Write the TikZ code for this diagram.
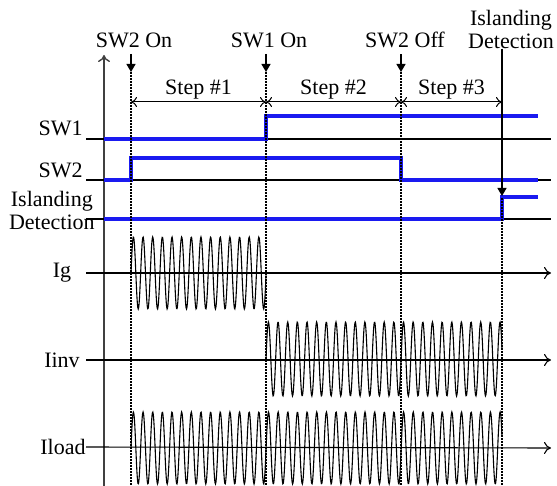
\documentclass[tikz,border=0pt]{standalone}
\usepackage{fontspec}
\setmainfont{Liberation Serif}
\usepackage{tikz}
\usetikzlibrary{positioning,arrows.meta,calc}
\definecolor{SIGblue}{HTML}{1A1AF0}
\definecolor{AXgray}{HTML}{404040}
\tikzset{
  lbl/.style={font=\fontsize{11}{11.5}\selectfont, inner sep=0pt, align=center},
  zeroline/.style={draw=black, line width=0.55pt},
  timeaxis/.style={zeroline, -{To[length=3.5pt,width=6pt]}},
  sigline/.style={draw=SIGblue, line width=1.6pt},
  evtline/.style={draw=black, line width=1.1pt, dash pattern=on 1pt off 0.5pt},
  evtarr/.style={-{Triangle[length=4pt,width=4.5pt]}, line width=0.6pt},
  steparr/.style={{To[length=3pt,width=5pt]}-{To[length=3pt,width=5pt]}, line width=0.5pt},
  wave/.style={line width=0.55pt, smooth}
}

\begin{document}
\begin{tikzpicture}[x=0.5pt,y=-0.5pt]
\useasboundingbox (0,0) rectangle (557,486);
% event labels and time marks
\node[lbl] (sw2on) at (134,40) {SW2 On};
\node[lbl] (sw1on) at (269,40) {SW1 On};
\node[lbl] (sw2off) at (405,40) {SW2 Off};
\node[lbl] (isd) at (511,29) {Islanding\\Detection};
\coordinate (t1) at (131,72);
\coordinate (t2) at (266,72);
\coordinate (t3) at (401,72);
\coordinate (t4) at (502,196);
% vertical axis
\coordinate (ybot) at (104,486);
\coordinate (ytop) at (104,55);
\draw[line width=0.7pt, draw=AXgray, -{To[length=3.5pt,width=6pt]}] (ybot) -- (ytop);
% row labels
\node[lbl, anchor=east] (sw1) at (83,128) {SW1};
\node[lbl, anchor=east] (sw2) at (83,170) {SW2};
\node[lbl, anchor=east] (det) at (95,210) {Islanding\\Detection};
\node[lbl] (ig) at (62,273) {Ig};
\node[lbl] (iinv) at (62,360) {Iinv};
\node[lbl, anchor=east] (iload) at (86,447) {Iload};
% zero lines
\draw[zeroline] (86,139) -- (551,139);
\draw[zeroline] (86,180) -- (551,180);
\draw[zeroline] (86,219) -- (551,219);
\draw[timeaxis] (86,273) -- (551,273);
\draw[timeaxis] ([xshift=3pt]iinv.east) -- (551,360);
\draw[timeaxis] (iload.east) -- (551,448);
% currents
\draw[wave] plot[domain=131:266, samples=300] (\x,{273-36*sin((\x-131)/9.65*360)});
\draw[wave] plot[domain=266:502, samples=500] (\x,{359-37*sin((\x-266)/9.65*360)});
\draw[wave] plot[domain=131:502, samples=800] (\x,{448-36*sin((\x-131)/9.65*360)});
% switch signals
\draw[sigline] (104,139) -- (266,139) -- (266,116) -- (538,116);
\draw[sigline] (104,180) -- (131,180) -- (131,158) -- (401,158) -- (401,180) -- (538,180);
\draw[sigline] (104,219) -- (502,219) -- (502,197) -- (538,197);
% event lines
\foreach \t in {t1,t2,t3}
  \draw[evtline] (\t) -- (\t |- ybot);
\draw[evtline] ([yshift=-1pt]t4) -- (t4 |- ybot);
\draw[evtarr] ([yshift=-3pt]sw2on.south -| t1) -- (t1);
\draw[evtarr] ([yshift=-3pt]sw1on.south -| t2) -- (t2);
\draw[evtarr] ([yshift=-3pt]sw2off.south -| t3) -- (t3);
\draw[evtarr] (isd.south -| t4) -- (t4);
% steps
\coordinate (s1) at (131,102);
\coordinate (s2) at (266,102);
\coordinate (s3) at (401,102);
\coordinate (s4) at (502,102);
\draw[steparr] (s1) -- node[lbl, above=1pt] (st1) {Step \#1} (s2);
\draw[steparr] (s2) -- node[lbl, above=1pt] (st2) {Step \#2} (s3);
\draw[steparr] (s3) -- node[lbl, above=1pt] (st3) {Step \#3} (s4);
\end{tikzpicture}
\end{document}
